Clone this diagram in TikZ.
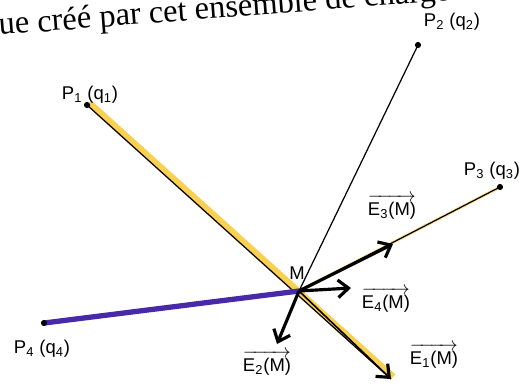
\documentclass[tikz,border=0pt]{standalone}
\usepackage{amsmath}
\usepackage{fontspec}
\setmainfont{Liberation Serif}
\setsansfont{Liberation Sans}
\usetikzlibrary{arrows.meta,calc}
\definecolor{markyellow}{RGB}{250,208,80}
\definecolor{markpurple}{RGB}{72,42,168}
\tikzset{
  field/.style={line width=1.8pt, -{Straight Barb[length=6pt,width=10pt]}},
  charge/.style={circle, fill=black, inner sep=0pt, minimum size=3.5pt}
}
\newcommand{\champ}[1]{$\overrightarrow{\text{E\textsubscript{#1}(M)}}$}
\begin{document}
\begin{tikzpicture}[x=0.02cm, y=-0.02cm, every node/.style={font=\sffamily\fontsize{10.5}{12}\selectfont}]
        \useasboundingbox (0,0) rectangle (525,387);
        \clip (0,0) rectangle (525,387);
        % Text of the page
        \node[rotate=4.4, anchor=base west, inner sep=0pt, font=\rmfamily\fontsize{18.5}{22}\selectfont] (texte) at (-1,35) {ue créé par cet ensemble de charges};
        % Points
        \coordinate (M) at (299,291);
        \coordinate (P1) at (87,105);
        \coordinate (P2) at (418,45);
        \coordinate (P3) at (500,187);
        \coordinate (P4) at (44,323);
        \coordinate (E1) at (391,379);
        \coordinate (E2) at (277,344);
        \coordinate (E3) at (393,244);
        \coordinate (E4) at (351,288);
        % Lines towards the charges
        \draw[line width=4pt, markyellow] ($(P1)+(2,-2)$) -- ($(E1)+(2,-2)$);
        \draw[line width=1.8pt, markyellow!60] (P3) -- (M);
        \draw[line width=0.7pt] (P1) -- (E1);
        \draw[line width=0.7pt] (P2) -- (M);
        \draw[line width=0.7pt] (P3) -- (M);
        \draw[line width=3pt, markpurple, line cap=round] (P4) -- (M);
        \node[charge] (q1) at (P1) {};
        \node[charge] (q2) at (P2) {};
        \node[charge] (q3) at (P3) {};
        \node[charge] (q4) at (P4) {};
        % Fields at M
        \draw[line width=0.9pt, -{Straight Barb[length=6pt,width=10pt,line width=1.8pt]}] (M) -- (E1);
        \draw[field] (M) -- (E2);
        \draw[field] (M) -- (E3);
        \draw[field] (M) -- (E4);
        % Labels
        \node (lP1) at (90,95) {P\textsubscript{1} (q\textsubscript{1})};
        \node (lP2) at (452,22) {P\textsubscript{2} (q\textsubscript{2})};
        \node (lP3) at (492,171) {P\textsubscript{3} (q\textsubscript{3})};
        \node (lP4) at (42,349) {P\textsubscript{4} (q\textsubscript{4})};
        \node (lM) at (297,273) {M};
        \node (lE1) at (434,356) {\champ{1}};
        \node (lE2) at (267,363) {\champ{2}};
        \node (lE3) at (392,207) {\champ{3}};
        \node (lE4) at (386,300) {\champ{4}};
    \end{tikzpicture}
\end{document}
